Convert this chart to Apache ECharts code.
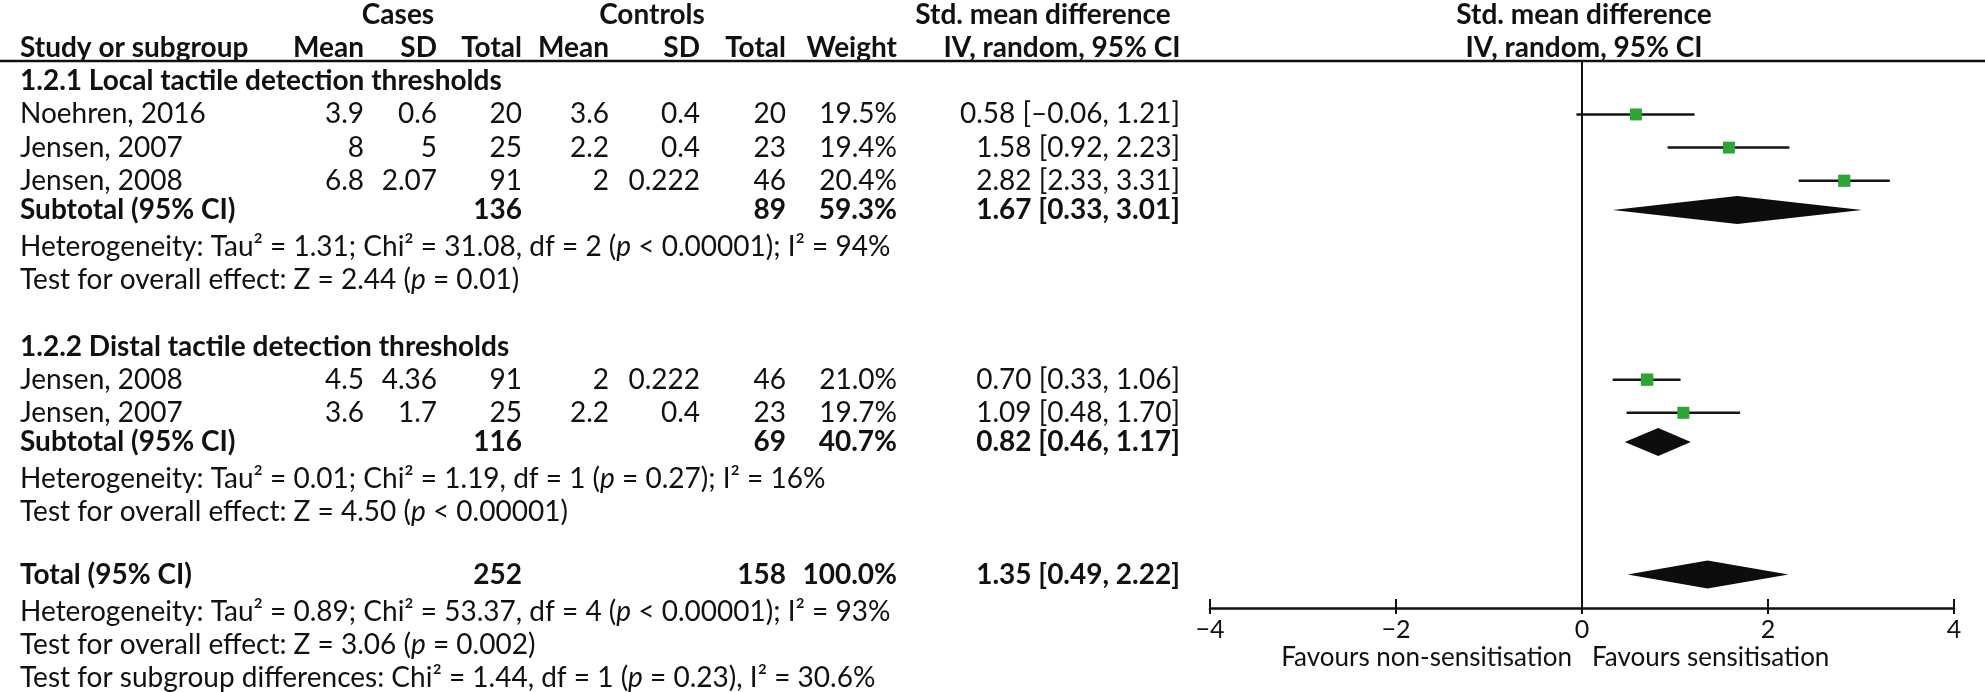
<!DOCTYPE html>
<html><head><meta charset="utf-8">
<script src="https://cdn.jsdelivr.net/npm/echarts@6/dist/echarts.min.js"></script>
<style>html,body{margin:0;padding:0;background:#fff}#c{width:1985px;height:692px}</style>
</head><body><div id="c"></div>
<script>
// ---------------- DATA ----------------
const groupTitles = ['1.2.1 Local tactile detection thresholds', '1.2.2 Distal tactile detection thresholds'];
const studyNames = ['Noehren, 2016', 'Jensen, 2007', 'Jensen, 2008', 'Jensen, 2008', 'Jensen, 2007'];
const studyGroup = [0, 0, 0, 1, 1];
const caseMean = [3.9, 8, 6.8, 4.5, 3.6];
const caseSD = [0.6, 5, 2.07, 4.36, 1.7];
const caseTotal = [20, 25, 91, 91, 25];
const ctrlMean = [3.6, 2.2, 2, 2, 2.2];
const ctrlSD = [0.4, 0.4, 0.222, 0.222, 0.4];
const ctrlTotal = [20, 23, 46, 46, 23];
const studyWeight = [19.5, 19.4, 20.4, 21.0, 19.7];
const studySmd = [0.58, 1.58, 2.82, 0.70, 1.09];
const studyLow = [-0.06, 0.92, 2.33, 0.33, 0.48];
const studyHigh = [1.21, 2.23, 3.31, 1.06, 1.70];

const subCases = [136, 116];
const subCtrl = [89, 69];
const subWeight = [59.3, 40.7];
const subSmd = [1.67, 0.82];
const subLow = [0.33, 0.46];
const subHigh = [3.01, 1.17];

const totalCases = 252, totalCtrl = 158, totalWeight = 100.0;
const totalSmd = 1.35, totalLow = 0.49, totalHigh = 2.22;

// heterogeneity: [group1, group2, overall]
const hetTau2 = [1.31, 0.01, 0.89];
const hetChi2 = [31.08, 1.19, 53.37];
const hetDf = [2, 1, 4];
const hetP = ['< 0.00001', '= 0.27', '< 0.00001'];
const hetI2 = [94, 16, 93];
const effZ = [2.44, 4.50, 3.06];
const effP = ['= 0.01', '< 0.00001', '= 0.002'];
const sgChi2 = 1.44, sgDf = 1, sgP = '= 0.23', sgI2 = 30.6;

const xTicks = [-4, -2, 0, 2, 4];
const favoursLeft = 'Favours non-sensitisation';
const favoursRight = 'Favours sensitisation';

// ---------------- LAYOUT ----------------
const W = 1985, H = 692;
const ROW0 = 15, ROWH = 33.15, NROWS = 20;
const FONT = 'Lato, "Liberation Sans", sans-serif';
const REG = 28, BOLD = 28, TXT = '#111';
const COL = {name: 20, cMean: 364, cSD: 437, cTot: 522, kMean: 609, kSD: 700, kTot: 786, wt: 897, ci: 1180,
  casesHead: 398, ctrlHead: 652, smdHead1: 1043, smdHead2: 1062, plotHead: 1584};
const SUB_SHIFT = -0.12; // subtotal / total rows sit a little closer to the row above
const PLOT_LEFT = 1210, PLOT_RIGHT = 1954, HEAD_LINE_Y = 61, AXIS_Y = 608, FAV_Y = 658;
const rowOfY = y => (y - ROW0) / ROWH;

const fmt2 = v => v.toFixed(2).replace('-', '\u2013');
const ciText = (e, l, h) => fmt2(e) + ' [' + fmt2(l) + ', ' + fmt2(h) + ']';

const cells = [];
function cell(row, x, text, align, bold) { cells.push({row, x, text, align, bold: !!bold}); }

// headers
cell(0, COL.casesHead, 'Cases', 'center', true);
cell(0, COL.ctrlHead, 'Controls', 'center', true);
cell(0, COL.smdHead1, 'Std. mean difference', 'center', true);
cell(0, COL.plotHead, 'Std. mean difference', 'center', true);
cell(1, COL.name, 'Study or subgroup', 'left', true);
cell(1, COL.cMean, 'Mean', 'right', true);
cell(1, COL.cSD, 'SD', 'right', true);
cell(1, COL.cTot, 'Total', 'right', true);
cell(1, COL.kMean, 'Mean', 'right', true);
cell(1, COL.kSD, 'SD', 'right', true);
cell(1, COL.kTot, 'Total', 'right', true);
cell(1, COL.wt, 'Weight', 'right', true);
cell(1, COL.smdHead2, 'IV, random, 95% CI', 'center', true);
cell(1, COL.plotHead, 'IV, random, 95% CI', 'center', true);

function hetLine(k) {
  return 'Heterogeneity: Tau\u00b2 = ' + hetTau2[k].toFixed(2) + '; Chi\u00b2 = ' + hetChi2[k].toFixed(2) +
    ', df = ' + hetDf[k] + ' ({i|p} ' + hetP[k] + '); I\u00b2 = ' + hetI2[k] + '%';
}
function effLine(k) {
  return 'Test for overall effect: Z = ' + effZ[k].toFixed(2) + ' ({i|p} ' + effP[k] + ')';
}

const studyRows = [], subRows = [];
let r = 2;
groupTitles.forEach((t, g) => {
  cell(r, COL.name, t, 'left', true); r++;
  studyNames.forEach((n, i) => {
    if (studyGroup[i] !== g) return;
    cell(r, COL.name, n, 'left');
    cell(r, COL.cMean, String(caseMean[i]), 'right');
    cell(r, COL.cSD, String(caseSD[i]), 'right');
    cell(r, COL.cTot, String(caseTotal[i]), 'right');
    cell(r, COL.kMean, String(ctrlMean[i]), 'right');
    cell(r, COL.kSD, String(ctrlSD[i]), 'right');
    cell(r, COL.kTot, String(ctrlTotal[i]), 'right');
    cell(r, COL.wt, studyWeight[i].toFixed(1) + '%', 'right');
    cell(r, COL.ci, ciText(studySmd[i], studyLow[i], studyHigh[i]), 'right');
    studyRows[i] = r; r++;
  });
  const sr = r + SUB_SHIFT;
  cell(sr, COL.name, 'Subtotal (95% CI)', 'left', true);
  cell(sr, COL.cTot, String(subCases[g]), 'right', true);
  cell(sr, COL.kTot, String(subCtrl[g]), 'right', true);
  cell(sr, COL.wt, subWeight[g].toFixed(1) + '%', 'right', true);
  cell(sr, COL.ci, ciText(subSmd[g], subLow[g], subHigh[g]), 'right', true);
  subRows[g] = sr; r++;
  cell(r, COL.name, hetLine(g), 'left'); r++;
  cell(r, COL.name, effLine(g), 'left'); r++;
  r++; // blank
});
const totalRow = r + SUB_SHIFT;
cell(totalRow, COL.name, 'Total (95% CI)', 'left', true);
cell(totalRow, COL.cTot, String(totalCases), 'right', true);
cell(totalRow, COL.kTot, String(totalCtrl), 'right', true);
cell(totalRow, COL.wt, totalWeight.toFixed(1) + '%', 'right', true);
cell(totalRow, COL.ci, ciText(totalSmd, totalLow, totalHigh), 'right', true);
r++;
cell(r, COL.name, hetLine(2), 'left'); r++;
cell(r, COL.name, effLine(2), 'left'); r++;
cell(r, COL.name, 'Test for subgroup differences: Chi\u00b2 = ' + sgChi2.toFixed(2) + ', df = ' + sgDf +
  ' ({i|p} ' + sgP + '), I\u00b2 = ' + sgI2.toFixed(1) + '%', 'left');

// forest data
const studyData = studySmd.map((e, i) => [studyLow[i], studyHigh[i], e, studyRows[i], studyWeight[i]]);
const diamondData = subSmd.map((e, g) => [e, subLow[g], subHigh[g], subRows[g]])
  .concat([[totalSmd, totalLow, totalHigh, totalRow]]);

// ---------------- CHART ----------------
const chart = echarts.init(document.getElementById('c'), null, {renderer: 'canvas'});
const minus = v => (v < 0 ? '\u2212' + Math.abs(v) : String(v));

chart.setOption({
  animation: false,
  backgroundColor: '#fff',
  grid: [
    {left: 0, top: ROW0, width: W, height: NROWS * ROWH},
    {left: PLOT_LEFT, top: HEAD_LINE_Y, width: PLOT_RIGHT - PLOT_LEFT, height: AXIS_Y - HEAD_LINE_Y}
  ],
  xAxis: [
    {gridIndex: 0, type: 'value', min: 0, max: W, show: false},
    {gridIndex: 1, type: 'value', min: xTicks[0], max: xTicks[xTicks.length - 1], interval: 2, position: 'bottom',
      axisLine: {show: true, onZero: false, lineStyle: {color: '#111', width: 2.5}},
      axisTick: {show: true, length: 6, lineStyle: {color: '#111', width: 2}},
      axisLabel: {show: true, margin: 9, color: TXT, fontSize: 25, fontFamily: FONT, formatter: minus},
      splitLine: {show: false}},
    {gridIndex: 1, type: 'value', min: xTicks[0], max: xTicks[xTicks.length - 1], interval: 2, position: 'bottom',
      axisLine: {show: false}, axisLabel: {show: false}, splitLine: {show: false},
      axisTick: {show: true, inside: true, length: 9, lineStyle: {color: '#111', width: 2}}}
  ],
  yAxis: [
    {gridIndex: 0, type: 'value', min: 0, max: NROWS, inverse: true, show: false},
    {gridIndex: 1, type: 'value', min: rowOfY(HEAD_LINE_Y), max: rowOfY(AXIS_Y), inverse: true,
      axisLine: {show: true, onZero: true, onZeroAxisIndex: 1, lineStyle: {color: '#111', width: 2}},
      axisTick: {show: false}, axisLabel: {show: false}, splitLine: {show: false}}
  ],
  graphic: [
    {type: 'line', shape: {x1: 0, y1: HEAD_LINE_Y, x2: W, y2: HEAD_LINE_Y}, style: {stroke: '#111', lineWidth: 2.5}, z: 10}
  ],
  series: [
    {
      type: 'custom', name: 'table', xAxisIndex: 0, yAxisIndex: 0, silent: true,
      data: cells.map((c, i) => [c.x, c.row, i]),
      encode: {x: 0, y: 1},
      renderItem: (params, api) => {
        const c = cells[params.dataIndex];
        const p = api.coord([api.value(0), api.value(1)]);
        const size = c.bold ? BOLD : REG;
        return {
          type: 'text', x: p[0], y: p[1],
          style: {
            text: c.text, fill: TXT, fontSize: size, fontFamily: FONT, fontWeight: c.bold ? 'bold' : 'normal',
            align: c.align, verticalAlign: 'middle',
            rich: {i: {fontStyle: 'italic', fontSize: size, fontFamily: FONT, fill: TXT}}
          }
        };
      }
    },
    {
      type: 'custom', name: 'studies', xAxisIndex: 1, yAxisIndex: 1, silent: true,
      data: studyData, encode: {x: [0, 1, 2], y: 3},
      renderItem: (params, api) => {
        const y = api.value(3);
        const lo = api.coord([api.value(0), y]);
        const hi = api.coord([api.value(1), y]);
        const c = api.coord([api.value(2), y]);
        const s = 2.7 * Math.sqrt(api.value(4));
        return {type: 'group', children: [
          {type: 'line', shape: {x1: lo[0], y1: lo[1], x2: hi[0], y2: hi[1]}, style: {stroke: '#151515', lineWidth: 2.5}},
          {type: 'rect', shape: {x: c[0] - s / 2, y: c[1] - s / 2, width: s, height: s}, style: {fill: '#2ba634'}}
        ]};
      }
    },
    {
      type: 'custom', name: 'pooled', xAxisIndex: 1, yAxisIndex: 1, silent: true,
      data: diamondData, encode: {x: [0, 1, 2], y: 3},
      renderItem: (params, api) => {
        const y = api.value(3);
        const e = api.coord([api.value(0), y]);
        const lo = api.coord([api.value(1), y]);
        const hi = api.coord([api.value(2), y]);
        const h = 14;
        return {type: 'polygon', shape: {points: [[lo[0], lo[1]], [e[0], e[1] - h], [hi[0], hi[1]], [e[0], e[1] + h]]},
          style: {fill: '#0d0d0d'}};
      }
    },
    {
      type: 'custom', name: 'favours', xAxisIndex: 1, yAxisIndex: 1, silent: true,
      data: [[0, rowOfY(FAV_Y), 0], [0, rowOfY(FAV_Y), 1]], encode: {x: 0, y: 1},
      renderItem: (params, api) => {
        const p = api.coord([api.value(0), api.value(1)]);
        const left = api.value(2) === 0;
        return {type: 'text', x: p[0] + (left ? -10 : 10), y: p[1],
          style: {text: left ? favoursLeft : favoursRight, fill: TXT, fontSize: 26, fontFamily: FONT,
            align: left ? 'right' : 'left', verticalAlign: 'middle'}};
      }
    }
  ]
});
</script></body></html>
